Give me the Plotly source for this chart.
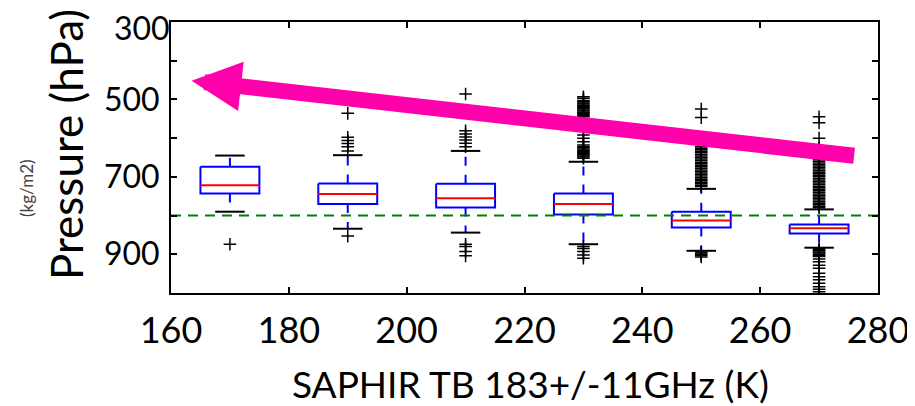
import plotly.graph_objects as go

# ---- data ----
positions = [170, 190, 210, 230, 250, 270]          # SAPHIR TB bins (K)
q1 = [674, 717, 718, 743, 790, 823]                  # box top (hPa)
median = [722, 744, 755, 770, 813, 833]
q3 = [743, 770, 779, 797, 831, 846]                  # box bottom (hPa)
whisker_top = [645, 644, 633, 661, 731, 784]
whisker_bottom = [790, 834, 844, 874, 891, 883]

outliers_170 = [874]
outliers_190 = [536, 598, 606, 614, 622, 633, 853]
outliers_210 = [486, 581, 589, 597, 605, 613, 622, 874, 880, 893, 904]
outliers_230 = [493, 497, 503, 506, 509, 512, 515, 518, 521, 524, 527, 530, 533, 536,
                539, 542, 545, 550, 560, 570, 580, 592, 600, 609, 618, 622, 625, 628,
                631, 634, 637, 640, 643, 646, 649, 652, 880, 885, 893, 902, 910]
outliers_250 = [525, 547, 622, 626, 630, 634, 638, 642, 646, 650, 654, 658, 662, 666,
                670, 674, 678, 682, 686, 690, 694, 698, 702, 706, 710, 714, 718, 722,
                725, 894, 897, 900, 903, 907]
outliers_270 = [545, 560, 600, 625, 656, 660, 664, 668, 672, 676, 680, 684, 688, 692,
                696, 700, 704, 708, 712, 716, 720, 724, 728, 732, 736, 740, 744, 748,
                752, 756, 760, 764, 768, 772, 776, 780, 885, 888, 891, 894, 897, 900,
                903, 906, 912, 919, 928, 936, 949, 958, 966, 975, 984, 990, 997]
outliers = [outliers_170, outliers_190, outliers_210, outliers_230, outliers_250, outliers_270]

reference_level = 800                                 # green dashed line (hPa)
x_ticks = [160, 180, 200, 220, 240, 260, 280]
y_ticks = [300, 400, 500, 600, 700, 800, 900, 1000]
y_tick_text = ["300", "", "500", "", "700", "", "900", ""]
x_title = "SAPHIR TB 183+/-11GHz (K)"
y_title = "Pressure (hPa)"
side_note = "(kg/m2)"
arrow_tip = (163.5, 451.6)
arrow_tail = (276.2, 646.0)

box_width = 10
cap_width = box_width / 2

fig = go.Figure()

# boxes (blue outline)
bx, by = [], []
for p, a, b in zip(positions, q1, q3):
    l, r = p - box_width / 2, p + box_width / 2
    bx += [l, r, r, l, l, None]
    by += [a, a, b, b, a, None]
fig.add_trace(go.Scatter(x=bx, y=by, mode="lines", line=dict(color="#0000ff", width=2),
                         hoverinfo="skip", showlegend=False))

# whiskers (dashed blue)
wx, wy = [], []
for p, a, b, lo, hi in zip(positions, q1, q3, whisker_top, whisker_bottom):
    wx += [p, p, None, p, p, None]
    wy += [a, lo, None, b, hi, None]
fig.add_trace(go.Scatter(x=wx, y=wy, mode="lines",
                         line=dict(color="#0000ff", width=2, dash="9px,9px"),
                         hoverinfo="skip", showlegend=False))

# caps (black)
cx, cy = [], []
for p, lo, hi in zip(positions, whisker_top, whisker_bottom):
    cx += [p - cap_width / 2, p + cap_width / 2, None, p - cap_width / 2, p + cap_width / 2, None]
    cy += [lo, lo, None, hi, hi, None]
fig.add_trace(go.Scatter(x=cx, y=cy, mode="lines", line=dict(color="black", width=2),
                         hoverinfo="skip", showlegend=False))

# medians (red)
mx, my = [], []
for p, m in zip(positions, median):
    mx += [p - box_width / 2, p + box_width / 2, None]
    my += [m, m, None]
fig.add_trace(go.Scatter(x=mx, y=my, mode="lines", line=dict(color="#ff0000", width=2),
                         hoverinfo="skip", showlegend=False))

# outliers
ox, oy = [], []
for p, vals in zip(positions, outliers):
    ox += [p] * len(vals)
    oy += vals
fig.add_trace(go.Scatter(x=ox, y=oy, mode="markers",
                         marker=dict(symbol="cross-thin", size=9, color="black",
                                     line=dict(color="black", width=1.5)),
                         hoverinfo="skip", showlegend=False))

# reference level
fig.add_trace(go.Scatter(x=[x_ticks[0], x_ticks[-1]], y=[reference_level, reference_level],
                         mode="lines", line=dict(color="#008000", width=2, dash="10px,7px"),
                         hoverinfo="skip", showlegend=False))

# the page body adds an 8px offset, so the figure is 8px smaller and shifted
fig.update_layout(
    width=907, height=398,
    margin=dict(l=163, r=37, t=14, b=113),
    paper_bgcolor="white", plot_bgcolor="white",
    showlegend=False,
    font=dict(family="Lato", color="black"),
)
fig.update_xaxes(range=[x_ticks[0], x_ticks[-1]], tickvals=x_ticks, automargin=False,
                 ticks="inside", ticklen=6, tickwidth=1.5, tickcolor="black",
                 showline=True, linecolor="black", linewidth=2, mirror="allticks",
                 showgrid=False, zeroline=False, tickfont=dict(size=36, family="Lato"),
                 ticklabelstandoff=5, ticklabeloverflow="allow")
# top label (300) is drawn as an annotation nudged down so it stays inside the page
axis_tick_text = [""] + y_tick_text[1:]
fig.update_yaxes(range=[y_ticks[-1], y_ticks[0]], tickvals=y_ticks, ticktext=axis_tick_text,
                 automargin=False,
                 ticks="inside", ticklen=6, tickwidth=1.5, tickcolor="black",
                 showline=True, linecolor="black", linewidth=2, mirror="allticks",
                 showgrid=False, zeroline=False, tickfont=dict(size=32, family="Lato"),
                 ticklabelstandoff=3, ticklabeloverflow="allow")
fig.add_annotation(text=y_tick_text[0], xref="paper", yref="y", x=0.002, y=y_ticks[0],
                   xanchor="right", yanchor="middle", yshift=-5, showarrow=False,
                   font=dict(size=32, family="Lato", color="black"))

fig.add_annotation(text=x_title, xref="paper", yref="paper", x=0.509, y=-0.333,
                   xanchor="center", yanchor="middle", showarrow=False,
                   font=dict(size=37, family="Lato", color="black"))
fig.add_annotation(text=y_title, xref="paper", yref="paper", x=-0.1485, y=0.546,
                   xanchor="center", yanchor="middle", showarrow=False, textangle=-90,
                   font=dict(size=44, family="Lato", color="black"))
fig.add_annotation(text=side_note, xref="paper", yref="paper", x=-0.2037, y=0.3875,
                   xanchor="center", yanchor="middle", showarrow=False, textangle=-90,
                   font=dict(size=17, family="Lato", color="#444444"))
fig.add_annotation(x=arrow_tip[0], y=arrow_tip[1], ax=arrow_tail[0], ay=arrow_tail[1],
                   xref="x", yref="y", axref="x", ayref="y", text="",
                   showarrow=True, arrowhead=2, arrowsize=0.62, arrowwidth=16,
                   arrowcolor="#ff00aa")

fig.write_html("out.html")
